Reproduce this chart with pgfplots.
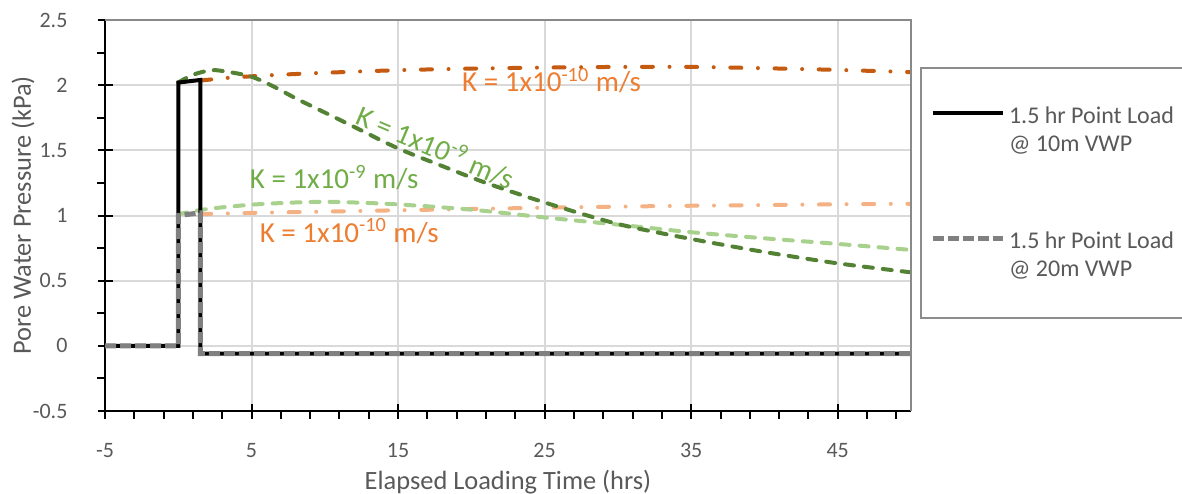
\documentclass[border=0pt]{standalone}
\usepackage{pgfplots}
\pgfplotsset{compat=1.18}
\usepackage{fontspec}
\setmainfont{Carlito}
\definecolor{darkorange}{HTML}{C55A11}
\definecolor{lightorange}{HTML}{F4B183}
\definecolor{darkgreen}{HTML}{548235}
\definecolor{lightgreen}{HTML}{A9D18E}
\definecolor{annotorange}{HTML}{ED7D31}
\definecolor{annotgreen}{HTML}{70AD47}
\definecolor{textgray}{HTML}{595959}
\definecolor{gridgray}{HTML}{D9D9D9}
\definecolor{bordergray}{HTML}{898989}
\definecolor{legendgray}{HTML}{8C8C8C}
\definecolor{stepgray}{HTML}{808080}
\begin{document}
\begin{tikzpicture}
\begin{axis}[
  at={(0,0)}, anchor=south west,
  scale only axis, width=403pt, height=195.5pt,
  xmin=-5, xmax=50, ymin=-0.5, ymax=2.5,
  axis lines*=left,
  axis line style={black, line width=1pt},
  xtick={-5,5,15,25,35,45}, xticklabels={-5,5,15,25,35,45},
  minor xtick={-3,-1,...,49},
  ytick={-0.5,0,0.5,1,1.5,2,2.5}, yticklabels={-0.5,0,0.5,1,1.5,2,2.5},
  minor ytick={-0.25,0.25,...,2.25},
  tick align=center,
  major tick length=7.5pt, minor tick length=4pt,
  every tick/.append style={black, line width=1pt},
  every minor x tick/.append style={yshift=-2pt},
  every minor y tick/.append style={xshift=-2pt},
  xmajorgrids, ymajorgrids,
  major grid style={gridgray, line width=1pt},
  ticklabel style={font=\fontsize{11}{13}\selectfont, text=textgray},
  xticklabel style={anchor=base, yshift=-19.5pt},
  yticklabel style={anchor=east, xshift=-11.5pt},
  xlabel={Elapsed Loading Time (hrs)},
  ylabel={Pore Water Pressure (kPa)},
  xlabel style={at={(axis description cs:0.5,-0.1995)}, anchor=base, font=\fontsize{13.2}{15}\selectfont, text=textgray},
  ylabel style={at={(axis description cs:-0.1017,0.5)}, anchor=center, font=\fontsize{13.2}{15}\selectfont, text=textgray},
  legend style={at={(axis description cs:1.0112,0.8798)}, anchor=north west, draw=legendgray, line width=1pt, fill=white,
    inner xsep=4.5pt, inner ysep=17.2pt, row sep=34.5pt,
    font=\fontsize{12}{14.2}\selectfont, text=textgray,
    nodes={inner sep=2pt, align=left}},
  legend cell align=left,
  legend image code/.code={\draw[#1] (0pt,8.5pt) -- (35pt,8.5pt);},
  after end axis/.code={\draw[bordergray, line width=1pt] (rel axis cs:0,1) -- (rel axis cs:1,1) -- (rel axis cs:1,0);},
]
% 20m, K = 1e-10
\addplot[forget plot, lightorange, line width=2pt, line cap=round, dash pattern=on 5.5pt off 8.3pt on 0pt off 8.3pt, smooth]
 coordinates {(1.5,1.01)(5,1.02)(10,1.03)(15,1.04)(20,1.05)(25,1.06)(30,1.068)(35,1.075)(40,1.08)(45,1.086)(50,1.09)};
% 20m, K = 1e-9
\addplot[forget plot, lightgreen, line width=2pt, line cap=round, dash pattern=on 4.5pt off 5pt, smooth]
 coordinates {(0,1.01)(2,1.05)(5,1.083)(8,1.10)(10,1.105)(12,1.10)(15,1.085)(20,1.045)(25,0.985)(30,0.93)(35,0.872)(40,0.825)(45,0.782)(50,0.736)};
% 10m, K = 1e-10
\addplot[forget plot, darkorange, line width=2pt, line cap=round, dash pattern=on 5.5pt off 8.3pt on 0pt off 8.3pt, smooth]
 coordinates {(1.5,2.035)(3.4,2.056)(6.4,2.077)(10,2.095)(15,2.115)(20,2.127)(25,2.135)(30,2.14)(35,2.14)(40,2.13)(45,2.117)(50,2.10)};
% 10m, K = 1e-9
\addplot[forget plot, darkgreen, line width=2pt, line cap=round, dash pattern=on 4.5pt off 5pt, smooth]
 coordinates {(0,2.02)(1,2.08)(2.3,2.115)(3.5,2.1)(5,2.065)(6.5,1.99)(8,1.9)(10,1.79)(12,1.68)(15,1.515)(18,1.38)(21,1.25)(25,1.10)(30,0.935)(35,0.82)(40,0.72)(45,0.633)(50,0.564)};
% step loads
\addplot[black, line width=2pt]
 coordinates {(-5,0)(0,0)(0,2.02)(1.5,2.04)(1.5,-0.06)(50,-0.06)};
\addlegendentry{1.5 hr Point Load\\@ 10m VWP}
\addplot[stepgray, line width=2.5pt, dash pattern=on 5.5pt off 2pt]
 coordinates {(-5,0)(0,0)(0,1.0)(1.5,1.02)(1.5,-0.06)(50,-0.06)};
\addlegendentry{1.5 hr Point Load\\@ 20m VWP}
% annotations
\node[anchor=base west, inner sep=0pt, text=annotorange, font=\fontsize{14.5}{17}\selectfont] at (axis cs:19.35,1.948) {K = 1x10\textsuperscript{-10} m/s};
\node[anchor=center, inner sep=0pt, rotate=-23, text=annotgreen, font=\fontsize{14.5}{17}\selectfont] at (axis cs:17.6,1.53) {K = 1x10\textsuperscript{-9} m/s};
\node[anchor=base west, inner sep=0pt, text=annotgreen, font=\fontsize{14.5}{17}\selectfont] at (axis cs:4.86,1.205) {K = 1x10\textsuperscript{-9} m/s};
\node[anchor=base west, inner sep=0pt, text=annotorange, font=\fontsize{14.5}{17}\selectfont] at (axis cs:5.54,0.795) {K = 1x10\textsuperscript{-10} m/s};
\end{axis}
\pgfresetboundingbox
\path[use as bounding box] (-52.5pt,-41pt) rectangle (538.5pt,205.5pt);
\end{tikzpicture}
\end{document}
